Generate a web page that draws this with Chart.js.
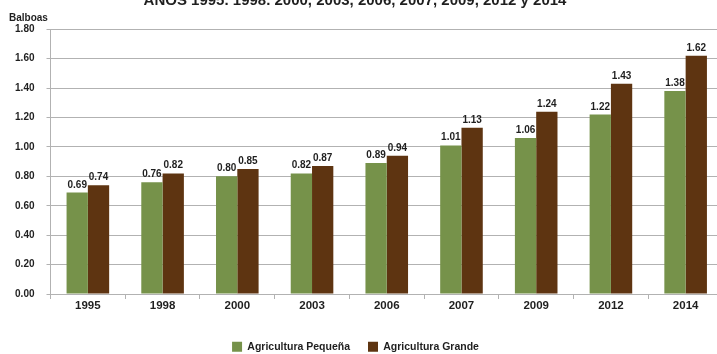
<!DOCTYPE html>
<html>
<head>
<meta charset="utf-8">
<script src="https://cdn.jsdelivr.net/npm/chart.js@4.4.1/dist/chart.umd.min.js"></script>
<style>
  html, body { margin: 0; padding: 0; overflow: hidden; background: #fff; width: 717px; height: 354px; }
  #wrap { position: absolute; left: 0; top: -10px; width: 723px; height: 372px; }
</style>
</head>
<body>
<div id="wrap"><canvas id="c" width="723" height="372"></canvas></div>
<script>
// Precio por jornal, agricultura pequeña y grande
const years = ['1995', '1998', '2000', '2003', '2006', '2007', '2009', '2012', '2014'];
const agriculturaPequena = [0.69, 0.76, 0.80, 0.82, 0.89, 1.01, 1.06, 1.22, 1.38];
const agriculturaGrande = [0.74, 0.82, 0.85, 0.87, 0.94, 1.13, 1.24, 1.43, 1.62];
const seriesNames = ['Agricultura Pequeña', 'Agricultura Grande'];
const titleText = 'AÑOS 1995. 1998. 2000, 2003, 2006, 2007, 2009, 2012 y 2014';
const unitText = 'Balboas';

const FONT = "'Liberation Sans', Arial, sans-serif";
const TEXT = '#1f1f1f';
const GREEN = '#76924a';
const BROWN = '#5e3411';
const GRID = '#b2b2b2';

// Value labels above each bar
const valueLabels = {
  id: 'valueLabels',
  afterDatasetsDraw(chart) {
    const ctx = chart.ctx;
    ctx.save();
    ctx.font = 'bold 10px ' + FONT;
    ctx.fillStyle = TEXT;
    ctx.textAlign = 'center';
    ctx.textBaseline = 'alphabetic';
    chart.data.datasets.forEach((ds, i) => {
      chart.getDatasetMeta(i).data.forEach((bar, j) => {
        ctx.fillText(ds.data[j].toFixed(2), bar.x, bar.y - 5);
      });
    });
    ctx.restore();
  }
};

// Horizontal placement of heading and legend
const boxShift = {
  id: 'boxShift',
  afterLayout(chart) {
    const t = chart.titleBlock;
    if (t) { t.left -= 11; t.right -= 11; }
    const l = chart.legend;
    if (l) { l.left -= 10.5; l.right -= 10.5; }
  }
};

new Chart(document.getElementById('c'), {
  type: 'bar',
  data: {
    labels: years,
    datasets: [
      { label: seriesNames[0], data: agriculturaPequena, backgroundColor: GREEN, categoryPercentage: 0.57, barPercentage: 1 },
      { label: seriesNames[1], data: agriculturaGrande, backgroundColor: BROWN, categoryPercentage: 0.57, barPercentage: 1 }
    ]
  },
  plugins: [valueLabels, boxShift],
  options: {
    responsive: false,
    animation: false,
    devicePixelRatio: 1,
    layout: { padding: { left: 9, right: 0, top: 0, bottom: 0 } },
    plugins: {
      title: {
        display: true,
        text: titleText,
        color: TEXT,
        font: { family: FONT, size: 15, weight: 'bold' },
        padding: { top: 1.7, bottom: 0 }
      },
      subtitle: {
        display: true,
        text: unitText,
        align: 'start',
        color: TEXT,
        font: { family: FONT, size: 10, weight: 'bold' },
        padding: { top: 2.3, bottom: 5.3 }
      },
      legend: {
        position: 'bottom',
        labels: {
          color: TEXT,
          font: { family: FONT, size: 10.5, weight: 'bold' },
          boxWidth: 10,
          boxHeight: 10,
          padding: 18
        }
      },
      tooltip: { enabled: false }
    },
    scales: {
      x: {
        grid: { drawOnChartArea: false, drawTicks: true, tickLength: 5, color: GRID },
        border: { color: GRID, width: 1 },
        ticks: { color: TEXT, font: { family: FONT, size: 11.5, weight: 'bold' }, padding: 0 },
        afterFit(scale) { scale.height = 29.5; }
      },
      y: {
        min: 0,
        max: 1.8,
        grid: { color: GRID, lineWidth: 1, tickLength: 4 },
        border: { color: GRID, width: 1 },
        ticks: {
          stepSize: 0.2,
          color: TEXT,
          padding: 12,
          font: { family: FONT, size: 10, weight: 'bold' },
          callback: (v) => Number(v).toFixed(2)
        },
        afterFit(scale) { scale.width = 41.5; }
      }
    }
  }
});
</script>
</body>
</html>
